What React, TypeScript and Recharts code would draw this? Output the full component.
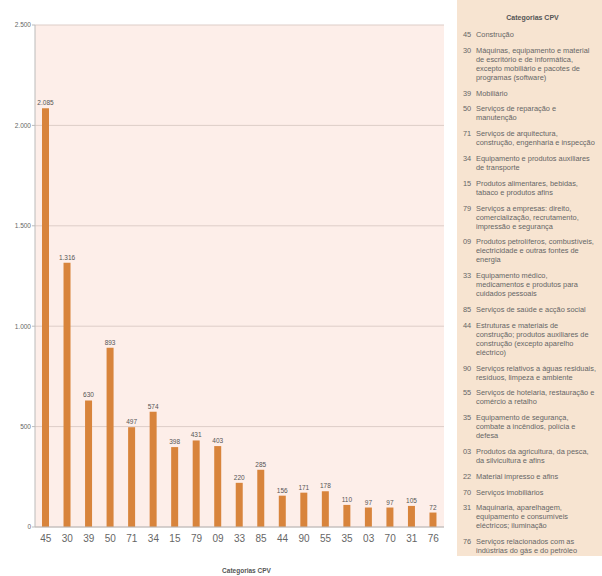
import { BarChart, Bar, XAxis, YAxis, CartesianGrid, LabelList } from "recharts"

const categorias = ['45', '30', '39', '50', '71', '34', '15', '79', '09', '33', '85', '44', '90', '55', '35', '03', '70', '31', '76']
const contratos = [2085, 1316, 630, 893, 497, 574, 398, 431, 403, 220, 285, 156, 171, 178, 110, 97, 97, 105, 72]
const yTicks = [0, 500, 1000, 1500, 2000, 2500]

const legendCodes = ['45', '30', '39', '50', '71', '34', '15', '79', '09', '33', '85', '44', '90', '55', '35', '03', '22', '70', '31', '76']
const legendTexts = [
    ['Construção'],
    ['Máquinas, equipamento e material', 'de escritório e de informática,', 'excepto mobiliário e pacotes de', 'programas (software)'],
    ['Mobiliário'],
    ['Serviços de reparação e', 'manutenção'],
    ['Serviços de arquitectura,', 'construção, engenharia e inspecção'],
    ['Equipamento e produtos auxiliares', 'de transporte'],
    ['Produtos alimentares, bebidas,', 'tabaco e produtos afins'],
    ['Serviços a empresas: direito,', 'comercialização, recrutamento,', 'impressão e segurança'],
    ['Produtos petrolíferos, combustíveis,', 'electricidade e outras fontes de', 'energia'],
    ['Equipamento médico,', 'medicamentos e produtos para', 'cuidados pessoais'],
    ['Serviços de saúde e acção social'],
    ['Estruturas e materiais de', 'construção; produtos auxiliares de', 'construção (excepto aparelho', 'eléctrico)'],
    ['Serviços relativos a águas residuais,', 'resíduos, limpeza e ambiente'],
    ['Serviços de hotelaria, restauração e', 'comércio a retalho'],
    ['Equipamento de segurança,', 'combate a incêndios, polícia e', 'defesa'],
    ['Produtos da agricultura, da pesca,', 'da silvicultura e afins'],
    ['Material impresso e afins'],
    ['Serviços imobiliários'],
    ['Maquinaria, aparelhagem,', 'equipamento e consumíveis', 'eléctricos; iluminação'],
    ['Serviços relacionados com as', 'indústrias do gás e do petróleo'],
]

const formatPt = (v: number) => String(v).replace(/\B(?=(\d{3})+(?!\d))/g, '.')

const FONT = '"Liberation Sans", Arial, sans-serif'

export default function App() {
    const chartData = categorias.map((cat, i) => ({ cat, valor: contratos[i] }))

    return (
        <div style={{ position: 'absolute', left: 0, top: 0, width: 602, height: 576, background: '#fff', fontFamily: FONT }}>
            <div style={{ position: 'absolute', left: 0, top: 0 }}>
                <BarChart
                    width={450}
                    height={576}
                    data={chartData}
                    margin={{ top: 25, right: 6, left: 0, bottom: 0 }}
                    barCategoryGap={0}
                >
                    <CartesianGrid vertical={false} stroke="#ddcdc8" fill="#fdeee9" />
                    <XAxis
                        dataKey="cat"
                        height={49}
                        tickLine={false}
                        axisLine={{ stroke: '#bbb' }}
                        tick={{ fontSize: 10, fill: '#666', fontFamily: FONT }}
                        interval={0}
                        label={{ value: 'Categorias CPV', position: 'insideBottom', offset: 3, dx: 7, fontSize: 6.5, fontWeight: 'bold', fill: '#555', fontFamily: FONT }}
                    />
                    <YAxis
                        width={35}
                        domain={[0, 2500]}
                        ticks={yTicks}
                        tickFormatter={formatPt}
                        tickSize={3}
                        tickMargin={1}
                        tickLine={{ stroke: '#bbb' }}
                        axisLine={{ stroke: '#bbb' }}
                        tick={{ fontSize: 6.5, fill: '#666', fontFamily: FONT }}
                    />
                    <Bar dataKey="valor" fill="#d8843c" barSize={7} isAnimationActive={false}>
                        <LabelList dataKey="valor" position="top" offset={3} formatter={(v: number) => formatPt(v)} style={{ fontSize: 6.5, fill: '#555', fontFamily: FONT }} />
                    </Bar>
                </BarChart>
            </div>
            <div style={{ position: 'absolute', left: 457, top: 0, width: 145, height: 556, background: '#f7e4d1', boxSizing: 'border-box', padding: '13px 0 0 6px', fontSize: 7.4, color: '#666', lineHeight: '9px' }}>
                <div style={{ textAlign: 'center', fontWeight: 'bold', fontSize: 7, color: '#555', marginBottom: 8 }}>Categorias CPV</div>
                {legendCodes.map((code, i) => (
                    <div key={code} style={{ display: 'flex', marginBottom: 6.8 }}>
                        <div style={{ width: 13, flexShrink: 0 }}>{code}</div>
                        <div style={{ whiteSpace: 'nowrap' }}>
                            {legendTexts[i].map((line, j) => <div key={j}>{line}</div>)}
                        </div>
                    </div>
                ))}
            </div>
        </div>
    )
}
